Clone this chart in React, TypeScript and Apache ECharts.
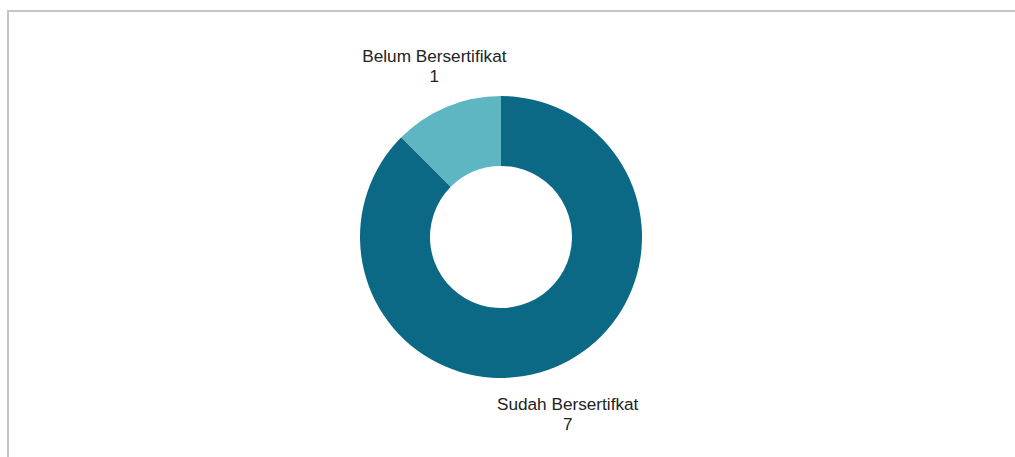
import React, { useEffect, useRef } from "react";
import * as echarts from "echarts";

const categories = ["Sudah Bersertifkat", "Belum Bersertifikat"];
const values = [7, 1];
const colors = ["#0b6986", "#5fb6c3"];

export default function App() {
  const ref = useRef<HTMLDivElement>(null);
  useEffect(() => {
    document.body.style.margin = "0";
    document.body.style.overflow = "hidden";
    const chart = echarts.init(ref.current as HTMLDivElement, null, { renderer: "svg" });
    const cx = 501;
    const cy = 237;
    const rIn = 71;
    const rOut = 141;
    const labelR = 186;
    const labelRot = -1.5;
    const total = values.reduce((a, b) => a + b, 0);
    const mids: number[] = [];
    let acc = 0;
    values.forEach((v) => {
      const start = 90 - (acc / total) * 360;
      acc += v;
      const end = 90 - (acc / total) * 360;
      mids.push((start + end) / 2);
    });
    chart.setOption({
      animation: false,
      graphic: [
        {
          type: "line",
          shape: { x1: 7, y1: 11, x2: 1015, y2: 11 },
          style: { stroke: "#c6c6c6", lineWidth: 2 },
          silent: true,
        },
        {
          type: "line",
          shape: { x1: 8, y1: 10, x2: 8, y2: 457 },
          style: { stroke: "#c6c6c6", lineWidth: 2 },
          silent: true,
        },
      ],
      series: [
        {
          type: "pie",
          center: [cx, cy],
          radius: [rIn, rOut],
          startAngle: 90,
          clockwise: true,
          avoidLabelOverlap: false,
          data: categories.map((name, i) => ({
            name,
            value: values[i],
            itemStyle: { color: colors[i], borderWidth: 0 },
          })),
          label: {
            show: true,
            position: "outside",
            formatter: "{b}\n{c}",
            color: "#222222",
            fontSize: 17.2,
            fontFamily: "'Liberation Sans', Arial, sans-serif",
            lineHeight: 20,
            align: "center",
          },
          labelLine: { show: false },
          labelLayout: (p: any) => {
            const a = ((mids[p.dataIndex] + labelRot) * Math.PI) / 180;
            return {
              x: cx + labelR * Math.cos(a),
              y: cy + 3 - labelR * Math.sin(a),
              align: "center",
              verticalAlign: "middle",
            };
          },
          emphasis: { disabled: true },
        },
      ],
    });
    return () => chart.dispose();
  }, []);
  return (
    <div style={{ position: "fixed", left: 0, top: 0, width: 1015, height: 457, overflow: "hidden", background: "#fff" }}>
      <div ref={ref} style={{ position: "absolute", left: 0, top: 0, width: 1015, height: 457 }} />
    </div>
  );
}
